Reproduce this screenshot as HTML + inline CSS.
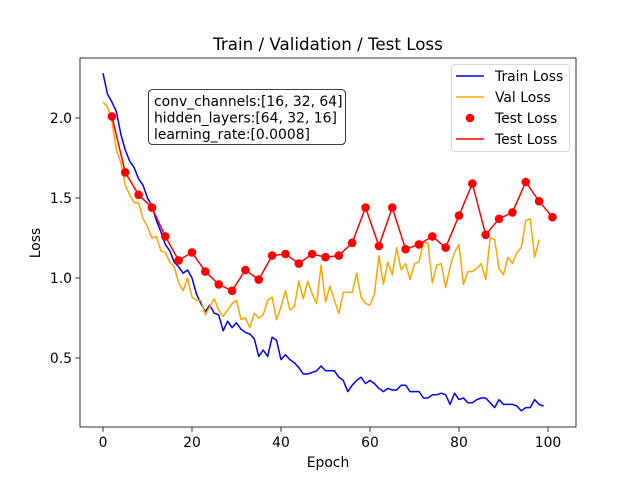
<!DOCTYPE html>
<html><head><meta charset="utf-8"><style>
html,body{margin:0;padding:0;background:#fff;}
svg{display:block;font-family:"DejaVu Sans","Liberation Sans",sans-serif;}
</style></head><body>
<svg id="chart" width="640" height="480" xmlns="http://www.w3.org/2000/svg">
<rect x="0" y="0" width="640" height="480" fill="#fff"/>
<g id="plot"></g>
</svg>
<script>
const trainLoss=[2.28,2.15,2.10,2.04,1.90,1.80,1.73,1.69,1.62,1.58,1.50,1.45,1.36,1.29,1.21,1.17,1.10,1.07,1.03,1.05,1.00,0.90,0.84,0.79,0.83,0.78,0.77,0.67,0.73,0.69,0.72,0.68,0.66,0.65,0.62,0.51,0.55,0.51,0.63,0.61,0.49,0.52,0.49,0.47,0.44,0.40,0.40,0.41,0.42,0.45,0.42,0.42,0.42,0.38,0.36,0.29,0.33,0.36,0.38,0.34,0.36,0.34,0.31,0.29,0.31,0.30,0.30,0.33,0.33,0.29,0.29,0.29,0.25,0.25,0.27,0.27,0.28,0.27,0.21,0.28,0.24,0.25,0.22,0.22,0.24,0.25,0.25,0.22,0.19,0.24,0.21,0.21,0.21,0.20,0.17,0.19,0.19,0.24,0.21,0.20];
const valLoss=[2.10,2.07,1.98,1.80,1.72,1.58,1.52,1.47,1.47,1.37,1.32,1.25,1.26,1.17,1.16,1.10,1.07,0.97,0.92,1.00,0.88,0.86,0.86,0.77,0.82,0.87,0.80,0.76,0.80,0.84,0.86,0.74,0.75,0.69,0.78,0.75,0.77,0.86,0.88,0.74,0.82,0.92,0.80,0.82,0.98,0.87,0.98,0.90,0.84,1.08,0.85,0.95,0.86,0.78,0.91,0.91,0.91,1.03,0.88,0.84,0.83,0.90,1.14,0.96,1.10,1.02,1.19,1.05,1.09,0.99,1.09,1.10,1.22,1.22,0.97,1.08,1.09,0.94,1.07,1.16,1.21,0.96,1.04,1.04,1.06,1.09,0.99,1.25,1.24,1.06,1.02,1.13,1.09,1.16,1.19,1.36,1.37,1.13,1.24];
const testEpochs=[2,5,8,11,14,17,20,23,26,29,32,35,38,41,44,47,50,53,56,59,62,65,68,71,74,77,80,83,86,89,92,95,98,101];
const testLoss=[2.01,1.66,1.52,1.44,1.26,1.11,1.16,1.04,0.96,0.92,1.05,0.99,1.14,1.15,1.09,1.15,1.13,1.14,1.22,1.44,1.20,1.44,1.18,1.21,1.26,1.19,1.39,1.59,1.27,1.37,1.41,1.60,1.48,1.38];
const xTicks=[0,20,40,60,80,100];
const yTicks=[0.5,1.0,1.5,2.0];

const NS="http://www.w3.org/2000/svg";
const g=document.getElementById('plot');
const L=80,R=576,T=58,B=427;
const FS=13.9;
function sx(v){return 103+v*4.45;}
function sy(v){return 278-(v-1)*160;}
function mk(tag,attrs,parent){const e=document.createElementNS(NS,tag);for(const k in attrs)e.setAttribute(k,attrs[k]);(parent||g).appendChild(e);return e;}
function txt(x,y,s,attrs){const e=mk('text',Object.assign({x:x,y:y,'font-size':FS,fill:'#000'},attrs||{}));e.textContent=s;return e;}

xTicks.forEach(v=>{
  const t=mk('line',{x1:sx(v),x2:sx(v),y1:B,y2:B+4.9,stroke:'#000','stroke-width':0.8});
  
  
  const l=txt(sx(v),B+20,String(v),{'text-anchor':'middle'});
  
  
});
yTicks.forEach(v=>{
  const t=mk('line',{x1:L-4.9,x2:L,y1:sy(v),y2:sy(v),stroke:'#000','stroke-width':0.8});
  
  
  const l=txt(L-8,sy(v)+5,v.toFixed(1),{'text-anchor':'end'});
  
  
});

function line(xs,ys,color,name){
  const p=mk('polyline',{points:xs.map((x,i)=>sx(x)+','+sy(ys[i])).join(' '),fill:'none',stroke:color,'stroke-width':1.5,'stroke-linejoin':'round'});
  
  
}
line(trainLoss.map((_,i)=>i),trainLoss,'#0000ff','train-loss-line');
line(valLoss.map((_,i)=>i),valLoss,'#ffa500','val-loss-line');
line(testEpochs,testLoss,'#ff0000','test-loss-line');
testEpochs.forEach((e,i)=>{
  const c=mk('circle',{cx:sx(e),cy:sy(testLoss[i]),r:4.3,fill:'#ff0000'});
  
  
});

const fr=mk('rect',{x:L,y:T,width:R-L,height:B-T,fill:'none',stroke:'#000','stroke-width':0.8});



const ti=txt(328,50,'Train / Validation / Test Loss',{'text-anchor':'middle','font-size':16.7});


const xl=txt(328,467,'Epoch',{'text-anchor':'middle'});


const yl=txt(0,0,'Loss',{'text-anchor':'middle',transform:'translate(40,243) rotate(-90)'});



const ab=mk('rect',{x:148.5,y:89.5,width:197,height:55,rx:4,fill:'#fff',stroke:'#000','stroke-width':0.8});


['conv_channels:[16, 32, 64]','hidden_layers:[64, 32, 16]','learning_rate:[0.0008]'].forEach((s,i)=>{
  const t=txt(154,106+i*16.5,s);
  
  
});

const lg=mk('rect',{x:451.5,y:64.5,width:118,height:87,rx:3,fill:'#fff',stroke:'#ccc','stroke-width':0.8});


const items=[['Train Loss','#0000ff','line'],['Val Loss','#ffa500','line'],['Test Loss','#ff0000','dot'],['Test Loss','#ff0000','line']];
items.forEach((it,i)=>{
  const y=76+i*21;
  if(it[2]==='line'){
    const m=mk('line',{x1:456,x2:484,y1:y,y2:y,stroke:it[1],'stroke-width':1.5});
    
    
  } else {
    const m=mk('circle',{cx:470,cy:y,r:4.3,fill:it[1]});
    
    
  }
  const t=txt(495,y+5,it[0]);
  
  
});
</script>
</body></html>
